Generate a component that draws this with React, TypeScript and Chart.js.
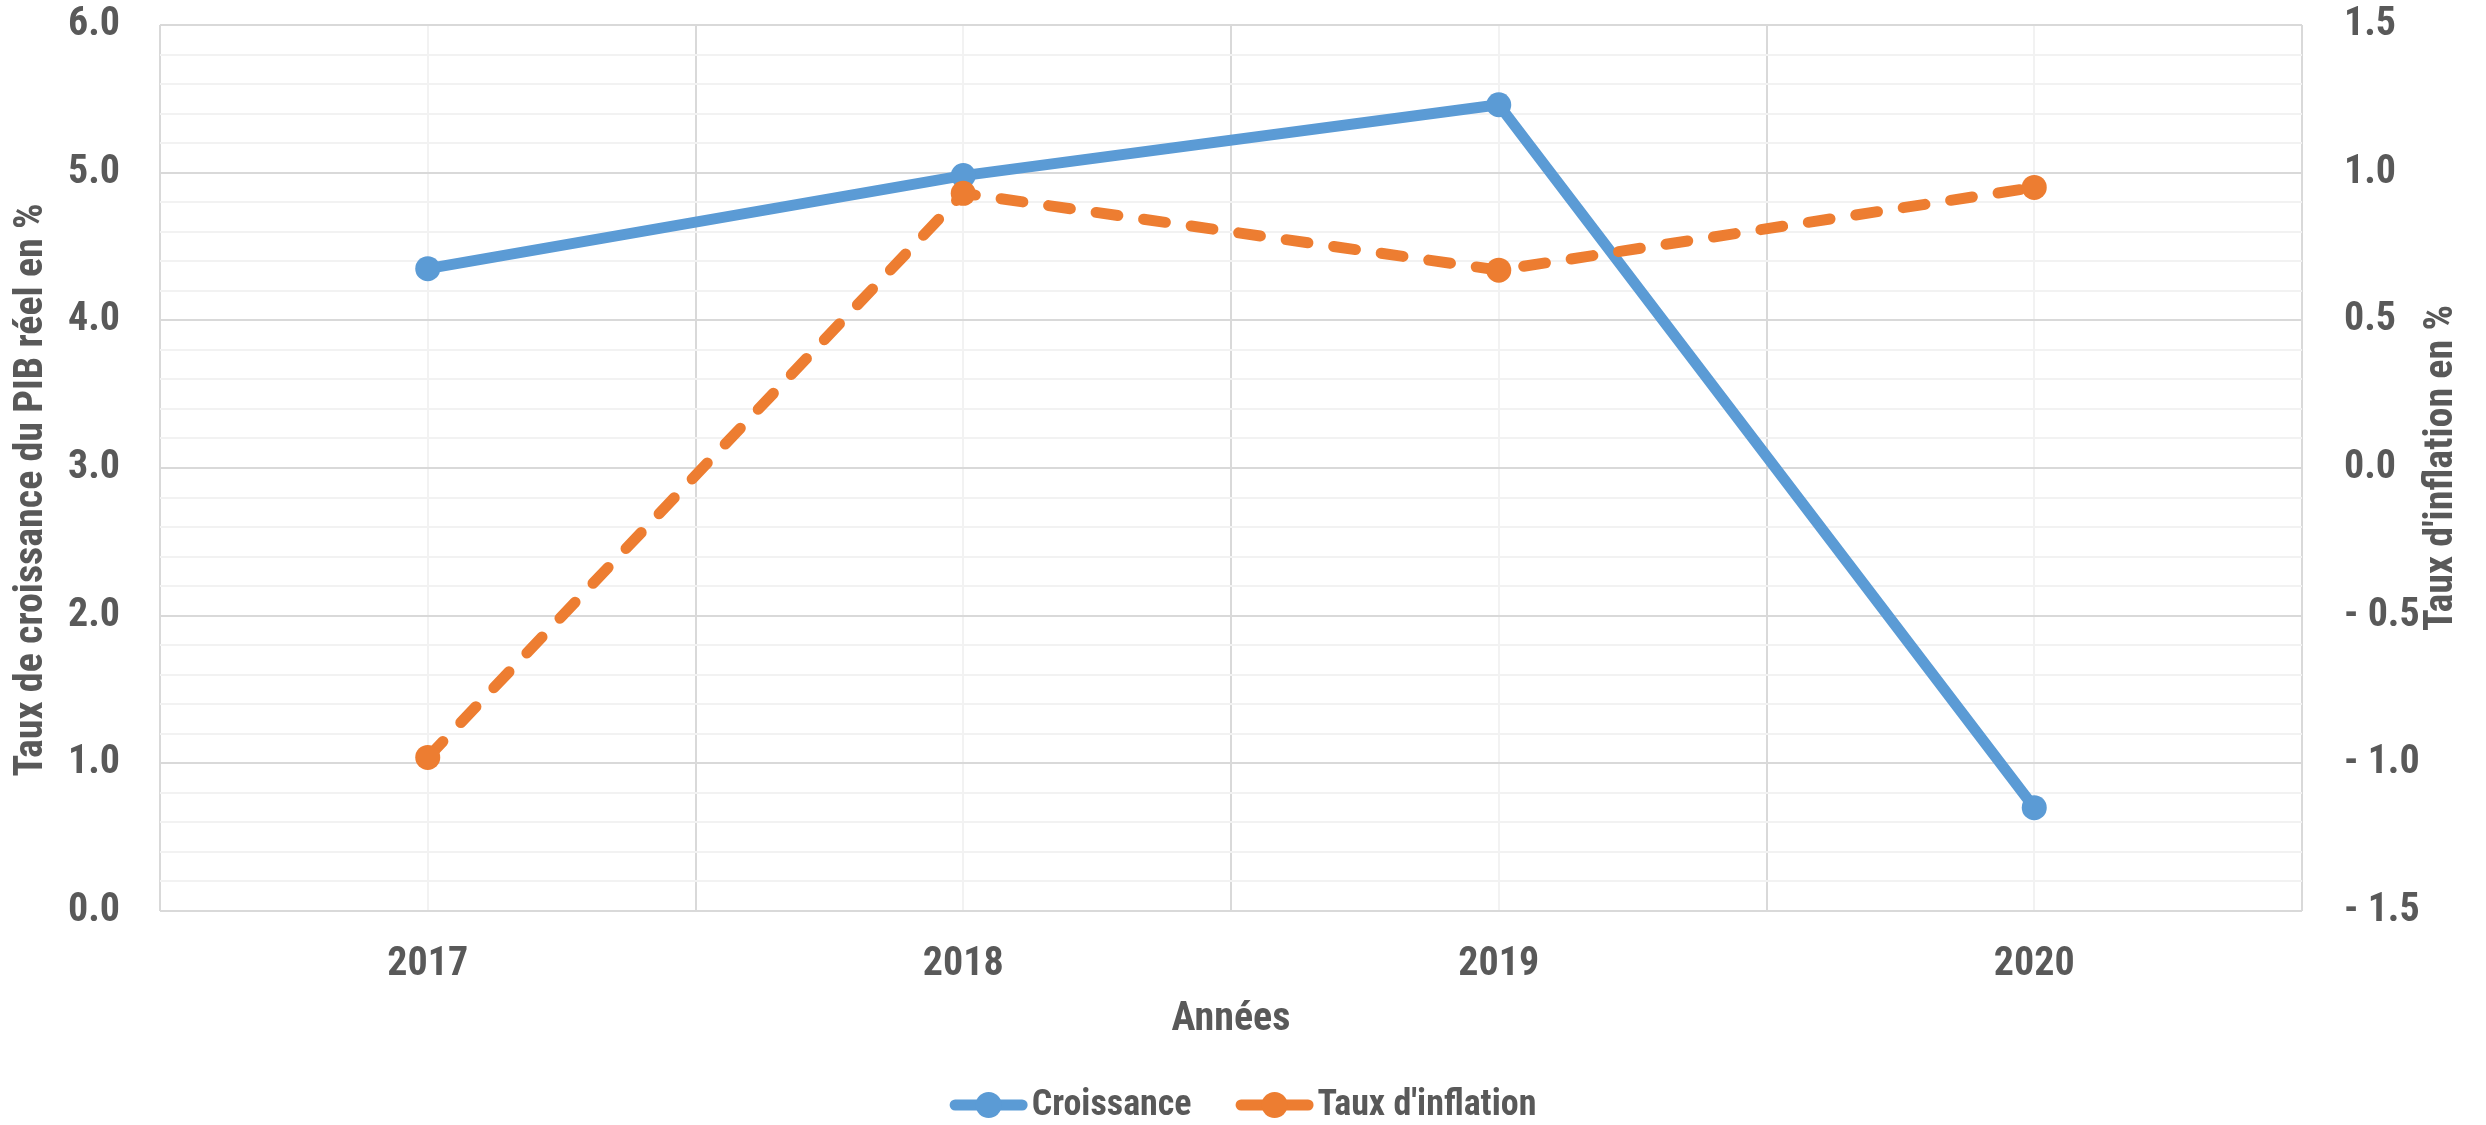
import React, { useEffect, useRef } from 'react';
import { Chart, registerables } from 'chart.js';

Chart.register(...registerables);

// ---- Data ----
const years: string[] = ['2017', '2018', '2019', '2020'];
const croissance: number[] = [4.35, 4.98, 5.46, 0.7];
const inflation: number[] = [-0.98, 0.93, 0.67, 0.95];
const seriesLabels: string[] = ['Croissance', "Taux d'inflation"];
const leftTitle = 'Taux de croissance du PIB réel en %';
const rightTitle = "Taux d'inflation en %";
const xTitle = 'Années';

// ---- Styles ----
const BLUE = '#5B9BD5';
const ORANGE = '#ED7D31';
const TEXT = '#595959';
const MAJOR = '#D9D9D9';
const MINOR = '#F2F2F2';
const FAMILY = "'Liberation Sans Narrow', 'Arial Narrow', 'Roboto Condensed', 'Liberation Sans', Arial, sans-serif";

const isMajor = (v: number) => Math.abs(v - Math.round(v)) < 1e-6;

const titlesPlugin = {
  id: 'sideTitles',
  afterDraw(chart: any) {
    const { ctx, chartArea } = chart;
    const cy = (chartArea.top + chartArea.bottom) / 2;
    ctx.save();
    ctx.fillStyle = TEXT;
    ctx.font = `bold 40px ${FAMILY}`;
    ctx.textAlign = 'center';
    ctx.textBaseline = 'middle';
    ctx.translate(32, cy + 22);
    ctx.rotate(-Math.PI / 2);
    ctx.fillText(leftTitle, 0, 0);
    ctx.restore();

    ctx.save();
    ctx.fillStyle = TEXT;
    ctx.font = `bold 40px ${FAMILY}`;
    ctx.textAlign = 'center';
    ctx.textBaseline = 'middle';
    ctx.translate(chart.width - 44, cy);
    ctx.rotate(-Math.PI / 2);
    ctx.fillText(rightTitle, 0, 0);
    ctx.restore();
  },
};

const legendPlugin = {
  id: 'lineLegend',
  afterDraw(chart: any) {
    const { ctx } = chart;
    const datasets = chart.data.datasets;
    const markerW = 78;
    const gapText = 4;
    const gapItem = 44;
    ctx.save();
    ctx.font = `bold 36px ${FAMILY}`;
    const widths = datasets.map((d: any) => markerW + gapText + ctx.measureText(d.label).width);
    const total = widths.reduce((a: number, b: number) => a + b, 0) + gapItem * (datasets.length - 1);
    let x = chart.width / 2 - total / 2;
    const y = chart.height - 20;
    datasets.forEach((d: any, i: number) => {
      const color = d.borderColor;
      ctx.strokeStyle = color;
      ctx.fillStyle = color;
      ctx.lineWidth = 11;
      ctx.lineCap = 'round';
      ctx.setLineDash([]);
      ctx.beginPath();
      ctx.moveTo(x + 5.5, y);
      ctx.lineTo(x + markerW - 5.5, y);
      ctx.stroke();
      ctx.beginPath();
      ctx.arc(x + markerW / 2, y, 13, 0, Math.PI * 2);
      ctx.fill();
      ctx.fillStyle = TEXT;
      ctx.textAlign = 'left';
      ctx.textBaseline = 'middle';
      ctx.fillText(d.label, x + markerW + gapText, y + 1);
      x += widths[i] + gapItem;
    });
    ctx.restore();
  },
};

export default function App() {
  const ref = useRef<HTMLCanvasElement | null>(null);

  useEffect(() => {
    if (!ref.current) return;
    const tickFont = { family: FAMILY, size: 40, weight: 'bold' as const };
    const chart = new Chart(ref.current, {
      type: 'line',
      data: {
        labels: years,
        datasets: [
          {
            label: seriesLabels[0],
            data: croissance,
            yAxisID: 'y',
            borderColor: BLUE,
            backgroundColor: BLUE,
            borderWidth: 11,
            borderCapStyle: 'round',
            borderJoinStyle: 'round',
            pointRadius: 12.5,
            pointBackgroundColor: BLUE,
            pointBorderWidth: 0,
            tension: 0,
            order: 1,
          },
          {
            label: seriesLabels[1],
            data: inflation,
            yAxisID: 'y1',
            borderColor: ORANGE,
            backgroundColor: ORANGE,
            borderWidth: 11,
            borderDash: [22, 26],
            borderCapStyle: 'round',
            borderJoinStyle: 'round',
            pointRadius: 12.5,
            pointBackgroundColor: ORANGE,
            pointBorderWidth: 0,
            tension: 0,
            order: 0,
          },
        ],
      },
      options: {
        animation: false,
        responsive: true,
        maintainAspectRatio: false,
        layout: { padding: { top: 25, bottom: 64, left: 0, right: 0 } },
        plugins: {
          legend: { display: false },
          tooltip: { enabled: false },
          title: { display: false },
        },
        scales: {
          x: {
            type: 'category',
            position: 'bottom',
            offset: true,
            grid: { offset: true, color: MAJOR, lineWidth: 2, drawTicks: false },
            border: { display: false },
            ticks: { color: TEXT, font: tickFont, padding: 30 },
            title: {
              display: true,
              text: xTitle,
              color: TEXT,
              font: { family: FAMILY, size: 40, weight: 'bold' },
              padding: { top: 0, bottom: 17 },
            },
            afterFit: (s: any) => {
              s.height = 150;
              s.paddingLeft = 0;
              s.paddingRight = 0;
            },
          },
          xMinor: {
            type: 'category',
            position: 'bottom',
            offset: true,
            grid: { offset: false, color: MINOR, lineWidth: 2, drawTicks: false },
            border: { display: false },
            ticks: { display: false },
            afterFit: (s: any) => {
              s.height = 0;
              s.paddingLeft = 0;
              s.paddingRight = 0;
            },
          },
          y: {
            type: 'linear',
            position: 'left',
            min: 0,
            max: 6,
            ticks: {
              stepSize: 0.2,
              autoSkip: false,
              color: TEXT,
              font: tickFont,
              padding: 40,
              callback: (v: any) => (isMajor(Number(v)) ? Number(v).toFixed(1) : ''),
            },
            grid: {
              color: (c: any) => (isMajor(c.tick.value) ? MAJOR : MINOR),
              lineWidth: 2,
              drawTicks: false,
            },
            border: { display: false },
            afterFit: (s: any) => {
              s.width = 160;
              s.paddingTop = 0;
              s.paddingBottom = 0;
            },
          },
          y1: {
            type: 'linear',
            position: 'right',
            min: -1.5,
            max: 1.5,
            ticks: {
              stepSize: 0.5,
              color: TEXT,
              font: tickFont,
              padding: 42,
              callback: (v: any) => {
                const n = Number(v);
                return n < -1e-9 ? '- ' + Math.abs(n).toFixed(1) : Math.abs(n).toFixed(1);
              },
            },
            grid: { drawOnChartArea: false, drawTicks: false },
            border: { display: false },
            afterFit: (s: any) => {
              s.width = 184;
              s.paddingTop = 0;
              s.paddingBottom = 0;
            },
          },
        },
      } as any,
      plugins: [titlesPlugin, legendPlugin],
    });
    return () => chart.destroy();
  }, []);

  return (
    <div style={{ position: 'fixed', left: 0, top: 0, width: 2486, height: 1125, background: '#ffffff' }}>
      <canvas ref={ref} />
    </div>
  );
}
